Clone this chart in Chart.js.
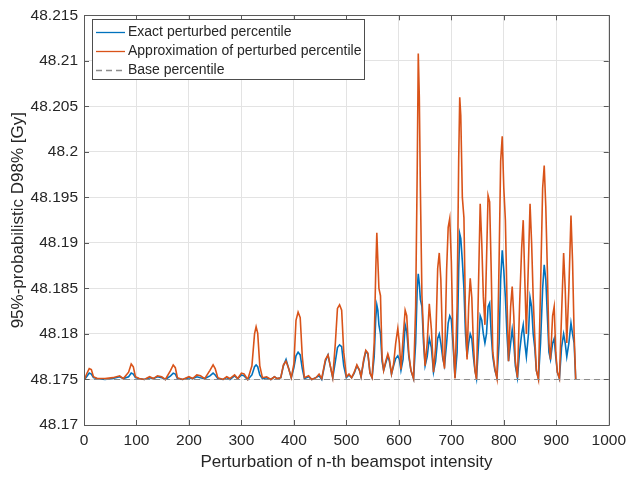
<!DOCTYPE html>
<html lang="en">
<head>
  <meta charset="UTF-8">
  <title>Perturbed percentile</title>
  <script src="https://cdn.jsdelivr.net/npm/chart.js"></script>
  <style>
    body {
      margin: 0;
      background: #ffffff;
    }
    canvas {
      display: block;
    }
  </style>
</head>
<body>
  <canvas id="pctChart" width="632" height="477"></canvas>

  <script>
    const beamspot = [
      1, 5, 10, 14, 18, 25, 40, 55, 68, 75, 85, 90, 94, 98, 105, 115, 125, 132, 140, 148,
      155, 165, 170, 174, 178, 188, 200, 207, 215, 222, 230, 240, 246, 250, 255, 265, 272, 278, 287, 293,
      300, 305, 312, 320, 325, 328, 331, 335, 340, 348, 356, 363, 368, 375, 380, 385, 390, 395, 400, 404,
      408, 412, 416, 420, 428, 434, 442, 448, 453, 460, 465, 470, 474, 479, 483, 487, 491, 495, 500, 505,
      510, 515, 520, 525, 528, 533, 537, 541, 545, 549, 553, 556, 558, 560, 562, 565, 568, 571, 575, 579,
      582, 586, 590, 594, 598, 601, 604, 608, 612, 615, 619, 623, 628, 632, 635, 637, 639, 641, 644, 647,
      650, 654, 658, 662, 666, 670, 674, 677, 680, 684, 687, 691, 694, 697, 700, 703, 707, 711, 714, 716,
      718, 721, 724, 727, 730, 733, 736, 739, 742, 745, 748, 752, 755, 758, 761, 764, 767, 770, 773, 776,
      779, 783, 787, 791, 794, 797, 800, 803, 806, 809, 813, 816, 819, 822, 826, 830, 834, 837, 840, 843,
      847, 850, 853, 856, 859, 862, 866, 870, 874, 877, 880, 883, 886, 889, 893, 896, 899, 902, 906, 910,
      914, 917, 920, 924, 928, 931, 934, 937
    ];

    const exactPct = [
      48.1750, 48.1753, 48.1757, 48.1756, 48.1752, 48.1751, 48.1750, 48.1751, 48.1753, 48.1751,
      48.1753, 48.1757, 48.1756, 48.1752, 48.1751, 48.1750, 48.1752, 48.1751, 48.1753, 48.1752,
      48.1750, 48.1754, 48.1757, 48.1756, 48.1751, 48.1750, 48.1752, 48.1751, 48.1753, 48.1752,
      48.1751, 48.1754, 48.1757, 48.1755, 48.1751, 48.1750, 48.1752, 48.1750, 48.1754, 48.1751,
      48.1755, 48.1754, 48.1750, 48.1755, 48.1764, 48.1766, 48.1764, 48.1755, 48.1751, 48.1752,
      48.1750, 48.1753, 48.1751, 48.1752, 48.1765, 48.1772, 48.1762, 48.1752, 48.1763, 48.1776,
      48.1780, 48.1777, 48.1762, 48.1751, 48.1753, 48.1750, 48.1752, 48.1754, 48.1750, 48.1770,
      48.1777, 48.1763, 48.1752, 48.1770, 48.1785, 48.1788, 48.1786, 48.1765, 48.1752, 48.1755,
      48.1752, 48.1757, 48.1765, 48.1760, 48.1753, 48.1770, 48.1781, 48.1778, 48.1757, 48.1752,
      48.1775, 48.1818, 48.1832, 48.1826, 48.1810, 48.1800, 48.1770, 48.1760, 48.1768, 48.1776,
      48.1770, 48.1756, 48.1765, 48.1773, 48.1776, 48.1772, 48.1760, 48.1772, 48.1810, 48.1803,
      48.1775, 48.1760, 48.1751, 48.1790, 48.1850, 48.1866, 48.1855, 48.1838, 48.1830, 48.1790,
      48.1765, 48.1775, 48.1795, 48.1785, 48.1758, 48.1770, 48.1795, 48.1800, 48.1790, 48.1772,
      48.1765, 48.1790, 48.1812, 48.1820, 48.1816, 48.1790, 48.1752, 48.1780, 48.1870, 48.1910,
      48.1905, 48.1880, 48.1850, 48.1800, 48.1775, 48.1790, 48.1800, 48.1795, 48.1775, 48.1760,
      48.1751, 48.1790, 48.1820, 48.1815, 48.1800, 48.1790, 48.1800, 48.1830, 48.1834, 48.1800,
      48.1775, 48.1760, 48.1752, 48.1790, 48.1860, 48.1892, 48.1870, 48.1840, 48.1800, 48.1770,
      48.1790, 48.1805, 48.1790, 48.1765, 48.1752, 48.1780, 48.1800, 48.1810, 48.1790, 48.1775,
      48.1800, 48.1840, 48.1830, 48.1800, 48.1785, 48.1760, 48.1751, 48.1790, 48.1850, 48.1876,
      48.1860, 48.1820, 48.1780, 48.1772, 48.1790, 48.1795, 48.1775, 48.1758, 48.1751, 48.1785,
      48.1800, 48.1790, 48.1775, 48.1790, 48.1812, 48.1800, 48.1790, 48.1750
    ];

    const approxPct = [
      48.1750, 48.1756, 48.1762, 48.1761, 48.1753, 48.1751, 48.1751, 48.1752, 48.1754, 48.1751,
      48.1758, 48.1767, 48.1764, 48.1753, 48.1751, 48.1750, 48.1753, 48.1751, 48.1754, 48.1753,
      48.1750, 48.1760, 48.1766, 48.1763, 48.1752, 48.1750, 48.1753, 48.1751, 48.1755, 48.1754,
      48.1751, 48.1760, 48.1766, 48.1762, 48.1752, 48.1750, 48.1753, 48.1751, 48.1755, 48.1751,
      48.1757, 48.1756, 48.1750, 48.1765, 48.1800, 48.1808, 48.1801, 48.1765, 48.1752, 48.1753,
      48.1750, 48.1753, 48.1751, 48.1752, 48.1766, 48.1770, 48.1762, 48.1752, 48.1767, 48.1815,
      48.1824, 48.1818, 48.1775, 48.1752, 48.1754, 48.1750, 48.1752, 48.1756, 48.1751, 48.1772,
      48.1777, 48.1763, 48.1752, 48.1790, 48.1828, 48.1832, 48.1826, 48.1780, 48.1753, 48.1756,
      48.1752, 48.1758, 48.1766, 48.1760, 48.1753, 48.1772, 48.1782, 48.1779, 48.1757, 48.1752,
      48.1790, 48.1870, 48.1911, 48.1880, 48.1850, 48.1842, 48.1775, 48.1760, 48.1770, 48.1778,
      48.1772, 48.1756, 48.1767, 48.1790, 48.1806, 48.1790, 48.1761, 48.1795, 48.1826, 48.1820,
      48.1778, 48.1760, 48.1751, 48.1830, 48.1980, 48.2108, 48.2060, 48.1960, 48.1842, 48.1800,
      48.1765, 48.1790, 48.1833, 48.1805, 48.1758, 48.1785, 48.1872, 48.1889, 48.1860, 48.1775,
      48.1762, 48.1870, 48.1917, 48.1927, 48.1880, 48.1800, 48.1751, 48.1830, 48.1990, 48.2060,
      48.2040, 48.1950, 48.1928, 48.1820, 48.1772, 48.1830, 48.1861, 48.1840, 48.1790, 48.1760,
      48.1750, 48.1860, 48.1943, 48.1900, 48.1841, 48.1810, 48.1880, 48.1952, 48.1945, 48.1870,
      48.1780, 48.1762, 48.1751, 48.1880, 48.1990, 48.2017, 48.1960, 48.1925, 48.1840, 48.1770,
      48.1830, 48.1852, 48.1820, 48.1770, 48.1752, 48.1830, 48.1894, 48.1925, 48.1860, 48.1800,
      48.1880, 48.1943, 48.1900, 48.1840, 48.1797, 48.1760, 48.1750, 48.1850, 48.1960, 48.1985,
      48.1940, 48.1870, 48.1790, 48.1772, 48.1820, 48.1830, 48.1780, 48.1758, 48.1751, 48.1820,
      48.1889, 48.1850, 48.1790, 48.1850, 48.1930, 48.1880, 48.1800, 48.1750
    ];

    const baseX = [0, 1000];
    const baseY = [48.175, 48.175];

    const xTicks = [0, 100, 200, 300, 400, 500, 600, 700, 800, 900, 1000];
    const yTicks = [48.17, 48.175, 48.18, 48.185, 48.19, 48.195, 48.2, 48.205, 48.21, 48.215];

    const seriesLabels = [
      "Exact perturbed percentile",
      "Approximation of perturbed percentile",
      "Base percentile"
    ];

    const toPoints = (xs, ys) => xs.map((x, i) => ({ x: x, y: ys[i] }));

    const fontFamily = "'Liberation Sans', Arial, Helvetica, sans-serif";
    const textColor = "#262626";

    // box around the axes with inward ticks on all four sides (matlab look)
    const framePlugin = {
      id: "frame",
      afterDatasetsDraw(chart) {
        const { ctx, chartArea: a, scales } = chart;
        const t = 5;
        ctx.save();
        ctx.strokeStyle = "#5a5a5a";
        ctx.lineWidth = 1;
        ctx.beginPath();
        ctx.rect(Math.round(a.left) + 0.5, Math.round(a.top) + 0.5,
                 Math.round(a.right - a.left), Math.round(a.bottom - a.top));
        xTicks.forEach((v) => {
          const px = Math.round(scales.x.getPixelForValue(v)) + 0.5;
          ctx.moveTo(px, a.bottom); ctx.lineTo(px, a.bottom - t);
          ctx.moveTo(px, a.top); ctx.lineTo(px, a.top + t);
        });
        yTicks.forEach((v) => {
          const py = Math.round(scales.y.getPixelForValue(v)) + 0.5;
          ctx.moveTo(a.left, py); ctx.lineTo(a.left + t, py);
          ctx.moveTo(a.right, py); ctx.lineTo(a.right - t, py);
        });
        ctx.stroke();
        ctx.restore();
      }
    };

    // legend box in the upper left corner
    const legendPlugin = {
      id: "boxLegend",
      afterDraw(chart) {
        const { ctx } = chart;
        const x0 = 92, y0 = 19, w = 272, h = 60;
        ctx.save();
        ctx.fillStyle = "#ffffff";
        ctx.fillRect(x0, y0, w, h);
        ctx.strokeStyle = "#4d4d4d";
        ctx.lineWidth = 1;
        ctx.strokeRect(x0 + 0.5, y0 + 0.5, w, h);
        ctx.font = "14px " + fontFamily;
        ctx.textBaseline = "middle";
        chart.data.datasets.forEach((ds, i) => {
          const cy = y0 + 13.5 + i * 19;
          ctx.strokeStyle = ds.borderColor;
          ctx.lineWidth = 1.3;
          ctx.setLineDash(ds.borderDash || []);
          ctx.beginPath();
          ctx.moveTo(x0 + 4, cy);
          ctx.lineTo(x0 + 33, cy);
          ctx.stroke();
          ctx.setLineDash([]);
          ctx.fillStyle = textColor;
          ctx.fillText(ds.label, x0 + 36, cy);
        });
        ctx.restore();
      }
    };

    const ctx = document.getElementById("pctChart").getContext("2d");
    new Chart(ctx, {
      type: "line",
      data: {
        datasets: [
          {
            label: seriesLabels[0],
            data: toPoints(beamspot, exactPct),
            borderColor: "#0072BD",
            borderWidth: 1.6,
            pointRadius: 0,
            order: 2
          },
          {
            label: seriesLabels[1],
            data: toPoints(beamspot, approxPct),
            borderColor: "#D95319",
            borderWidth: 1.6,
            pointRadius: 0,
            order: 1
          },
          {
            label: seriesLabels[2],
            data: toPoints(baseX, baseY),
            borderColor: "#8c8c8c",
            borderWidth: 1.2,
            borderDash: [6, 4],
            pointRadius: 0,
            order: 0
          }
        ]
      },
      options: {
        responsive: false,
        animation: false,
        layout: {
          padding: { top: 14, right: 19, bottom: 0, left: 0 }
        },
        plugins: {
          legend: { display: false },
          tooltip: { enabled: false }
        },
        scales: {
          x: {
            type: "linear",
            min: 0,
            max: 1000,
            afterBuildTicks: (s) => { s.ticks = xTicks.map((v) => ({ value: v })); },
            afterFit: (s) => { s.height = 52; },
            grid: { color: "#e3e3e3", drawTicks: false },
            border: { display: false },
            ticks: {
              color: textColor,
              padding: 6,
              maxRotation: 0,
              font: { family: fontFamily, size: 15.5 },
              callback: (v) => String(v)
            },
            title: {
              display: true,
              text: "Perturbation of n-th beamspot intensity",
              color: textColor,
              padding: { top: 0, bottom: 4 },
              font: { family: fontFamily, size: 17 }
            }
          },
          y: {
            min: 48.17,
            max: 48.215,
            afterBuildTicks: (s) => { s.ticks = yTicks.map((v) => ({ value: v })); },
            afterFit: (s) => { s.width = 84; },
            grid: { color: "#e3e3e3", drawTicks: false },
            border: { display: false },
            ticks: {
              color: textColor,
              padding: 6,
              font: { family: fontFamily, size: 15.5 },
              callback: (v) => String(Number(v.toFixed(3)))
            },
            title: {
              display: true,
              text: "95%-probabilistic D98% [Gy]",
              color: textColor,
              padding: { top: 8, bottom: 0 },
              font: { family: fontFamily, size: 17 }
            }
          }
        }
      },
      plugins: [framePlugin, legendPlugin]
    });
  </script>
</body>
</html>
